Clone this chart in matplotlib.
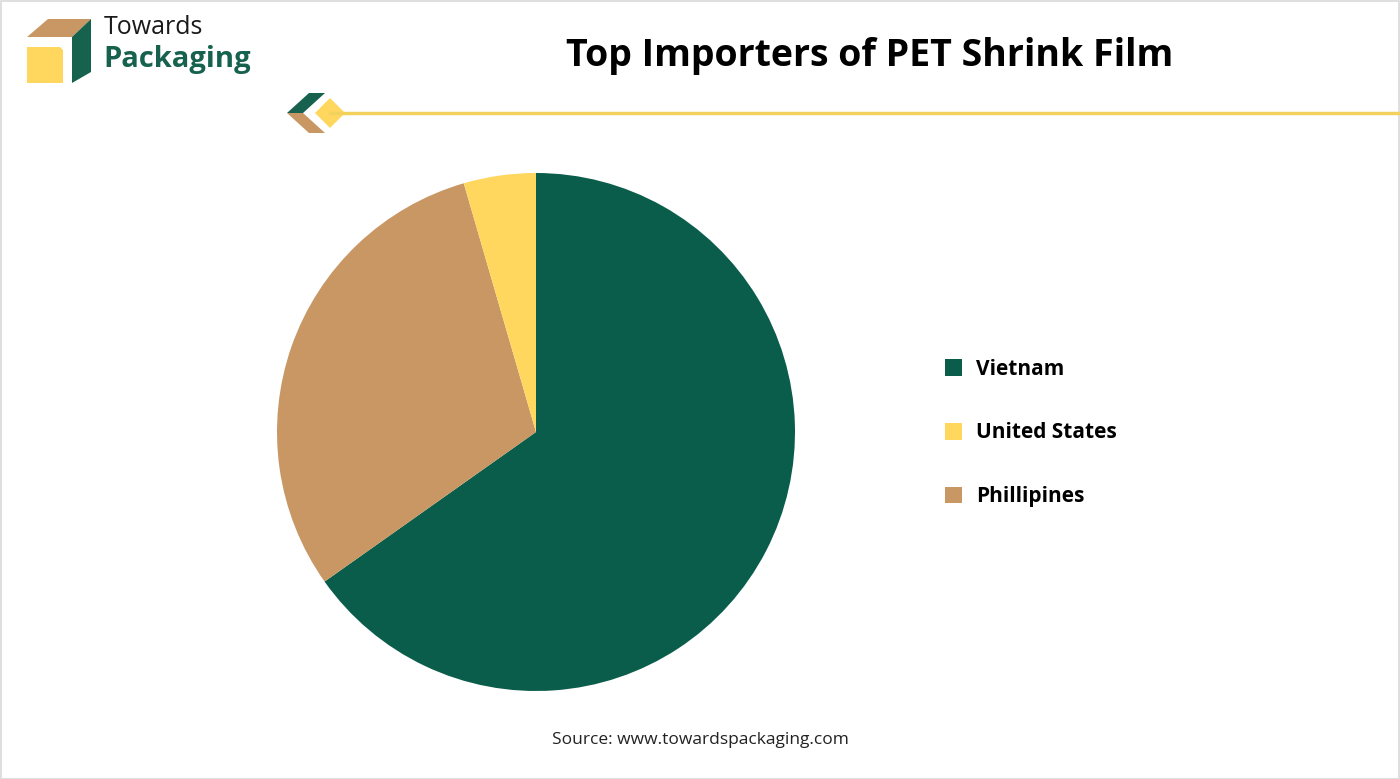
import matplotlib.pyplot as plt
from matplotlib.patches import Polygon, Rectangle
from matplotlib.lines import Line2D

# data
countries = ['Vietnam', 'Phillipines', 'United States']
shares = [65.2, 30.3, 4.5]
colors = ['#0A5C4B', '#C89763', '#FFD75E']
legend_order = ['Vietnam', 'United States', 'Phillipines']

W, H = 1400, 779
fig = plt.figure(figsize=(W / 100, H / 100), dpi=100)


def px(x, y):
    # pixel coords (origin top-left) -> figure fraction
    return (x / W, 1 - y / H)


# outer border
fig.add_artist(Rectangle((0.5 / W, 0.5 / H), 1 - 1.5 / W, 1 - 1.5 / H, transform=fig.transFigure,
                         fill=False, edgecolor='#D9D9D9', linewidth=1.2))

# logo
fig.add_artist(Polygon([px(27, 37), px(48, 19), px(91, 19), px(72, 37)], closed=True,
                       transform=fig.transFigure, facecolor='#C89763', edgecolor='none'))
fig.add_artist(Polygon([px(72, 37), px(91, 19), px(91, 72), px(72, 83)], closed=True,
                       transform=fig.transFigure, facecolor='#17624F', edgecolor='none'))
fig.add_artist(Polygon([px(27, 47), px(60, 47), px(63, 50), px(63, 83), px(27, 83)], closed=True,
                       transform=fig.transFigure, facecolor='#FFD75E', edgecolor='none'))
fig.text(*px(104, 28), 'Towards', fontsize=18, family='Open Sans',
         color='#1A1A1A', va='center', ha='left')
fig.text(*px(103, 59), 'Packaging', fontsize=21, fontweight='bold', family='Open Sans',
         color='#17624F', va='center', ha='left')

# title
fig.text(*px(870, 56), 'Top Importers of PET Shrink Film', fontsize=27, fontweight='bold',
         family='Open Sans', color='black', ha='center', va='center')

# decorative line and chevron
fig.add_artist(Line2D([330 / W, 1], [1 - 113 / H] * 2, transform=fig.transFigure,
                      color='#F2D15C', linewidth=2.5))
fig.add_artist(Polygon([px(287, 113), px(309, 93), px(325, 93), px(303, 113)], closed=True,
                       transform=fig.transFigure, facecolor='#17624F', edgecolor='none'))
fig.add_artist(Polygon([px(287, 113), px(303, 113), px(325, 133), px(309, 133)], closed=True,
                       transform=fig.transFigure, facecolor='#C89763', edgecolor='none'))
fig.add_artist(Polygon([px(314, 113), px(330, 97), px(346, 113), px(330, 129)], closed=True,
                       transform=fig.transFigure, facecolor='#FFD75E', edgecolor='white', linewidth=1))

# pie
cx, cy, r = 536, 432, 259
ax = fig.add_axes([(cx - r) / W, (H - cy - r) / H, 2 * r / W, 2 * r / H])
wedges, _ = ax.pie(shares, colors=colors, startangle=90, counterclock=False, radius=1,
                   wedgeprops=dict(edgecolor='none'))
ax.set_xlim(-1, 1)
ax.set_ylim(-1, 1)
ax.set_aspect('equal')
ax.axis('off')

handles = [wedges[countries.index(c)] for c in legend_order]
fig.legend(handles, legend_order, loc='center left', bbox_to_anchor=px(926, 433), frameon=False,
           prop=dict(family='Open Sans', weight='bold', size=15), labelspacing=2.05,
           handlelength=0.85, handleheight=0.85, handletextpad=0.65)

fig.text(*px(700, 740), 'Source: www.towardspackaging.com', fontsize=12.5, family='Open Sans',
         color='#222222', ha='center', va='center')

fig.savefig('out.png', dpi=100)
